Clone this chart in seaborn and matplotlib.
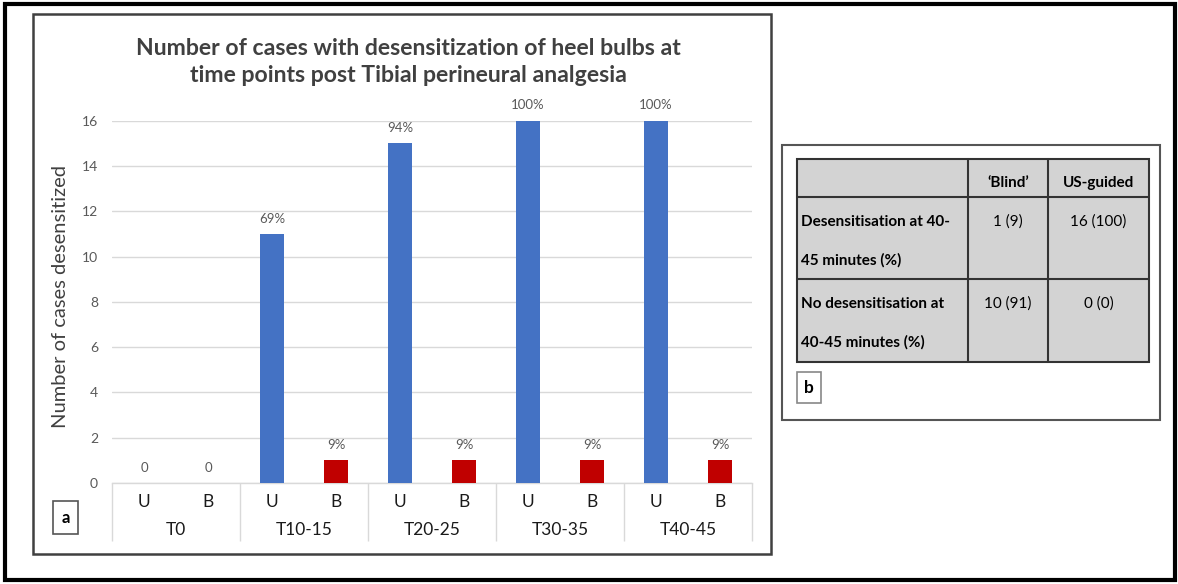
import numpy as np
import pandas as pd
import matplotlib
matplotlib.use("Agg")
import matplotlib.pyplot as plt
import seaborn as sns
from matplotlib.patches import Rectangle
from matplotlib.transforms import blended_transform_factory

# ---- data -------------------------------------------------------------
time_points = ["T0", "T10-15", "T20-25", "T30-35", "T40-45"]
arms = ["U", "B"]                      # U = US-guided, B = 'Blind'
us_guided = [0, 11, 15, 16, 16]        # cases desensitized, US-guided
blind = [0, 1, 1, 1, 1]                # cases desensitized, blind
group_size = {"U": 16, "B": 11}
y_ticks = [0, 2, 4, 6, 8, 10, 12, 14, 16]

title = ("Number of cases with desensitization of heel bulbs at\n"
         "time points post Tibial perineural analgesia")
y_label = "Number of cases desensitized"

table_header = ["\u2018Blind\u2019", "US-guided"]
table_row_labels = [("Desensitisation at 40-", "45 minutes (%)"),
                    ("No desensitisation at", "40-45 minutes (%)")]
table_values = [["1 (9)", "16 (100)"],
                ["10 (91)", "0 (0)"]]

arm_colors = {"U": "#4472C4", "B": "#C00000"}

# ---- long-form frame ---------------------------------------------------
records = []
for i, tp in enumerate(time_points):
    for arm, vals in (("U", us_guided), ("B", blind)):
        records.append({"slot": f"{tp}|{arm}", "time": tp, "arm": arm,
                        "count": vals[i]})
df = pd.DataFrame(records)

# ---- figure ------------------------------------------------------------
sns.set_style("white")
plt.rcParams["font.family"] = ["Lato", "DejaVu Sans"]

W, H = 1178, 584
fig = plt.figure(figsize=(W / 100, H / 100), dpi=100)
fig.patch.set_facecolor("white")

# pixel-space canvas for frames, title and table
canvas = fig.add_axes([0, 0, 1, 1], zorder=0)
canvas.set_xlim(0, W)
canvas.set_ylim(H, 0)
canvas.axis("off")

# chart axes
AX_L, AX_R, AX_T, AX_B = 112, 752, 120.7, 483
ax = fig.add_axes([AX_L / W, 1 - AX_B / H, (AX_R - AX_L) / W,
                   (AX_B - AX_T) / H], zorder=2)
ax.set_facecolor("none")

sns.barplot(data=df, x="slot", y="count", hue="arm", order=df["slot"],
            palette=arm_colors, saturation=1, dodge=False, width=0.39,
            legend=False, ax=ax, linewidth=0, zorder=3)

ax.set_xlim(-0.5, len(df) - 0.5)
ax.set_ylim(0, 16)
ax.set_yticks(y_ticks)
ax.set_yticklabels([str(t) for t in y_ticks], color="#595959", fontsize=10)
ax.grid(axis="y", color="#d9d9d9", linewidth=1, zorder=0)
ax.set_axisbelow(True)
ax.tick_params(axis="y", length=0, pad=10)
ax.set_xticks(range(len(df)))
ax.set_xticklabels(df["arm"], fontsize=12.5, color="#1a1a1a")
ax.tick_params(axis="x", length=0, pad=8)
ax.set_xlabel("")
ax.set_ylabel("")
for s in ("top", "right", "left"):
    ax.spines[s].set_visible(False)
ax.spines["bottom"].set_color("#d9d9d9")
ax.spines["bottom"].set_linewidth(1)

# value labels above bars
for i, row in df.iterrows():
    c = row["count"]
    if c == 0:
        lab = str(c)
    else:
        lab = f"{round(100 * c / group_size[row['arm']])}%"
    ax.annotate(lab, (i, c), xytext=(0, 11), textcoords="offset points",
                ha="center", va="center", fontsize=9.5, color="#595959")

# multi-level category axis: group names and separators
ax_h = AX_B - AX_T
trans = blended_transform_factory(ax.transData, ax.transAxes)
for g, tp in enumerate(time_points):
    ax.text(2 * g + 0.5, -(530 - AX_B) / ax_h, tp, transform=trans,
            ha="center", va="center", fontsize=12.5, color="#1a1a1a")
bounds = [2 * g - 0.5 for g in range(len(time_points) + 1)]
ax.vlines(bounds, -(541 - AX_B) / ax_h, 0, transform=trans,
          colors="#d9d9d9", linewidth=1, clip_on=False)

# ---- frames, title, axis label ----------------------------------------
canvas.add_patch(Rectangle((5, 4), 1170, 576, fill=False,
                           edgecolor="black", linewidth=3))
canvas.add_patch(Rectangle((33, 14), 738, 540, fill=False,
                           edgecolor="#404040", linewidth=1.8))
canvas.text(408, 62, title, ha="center", va="center", fontsize=16.6,
            fontweight="bold", color="#404040", linespacing=1.38)
canvas.text(61, 297, y_label, rotation=90, ha="center", va="center",
            fontsize=14.5, color="#404040")
canvas.add_patch(Rectangle((53, 501), 25, 33, fill=False,
                           edgecolor="#555555", linewidth=1.2))
canvas.text(65.5, 518, "a", ha="center", va="center", fontsize=12,
            fontweight="bold", color="black")

# ---- panel b: summary table -------------------------------------------
canvas.add_patch(Rectangle((782, 145), 378, 275, fill=False,
                           edgecolor="#555555", linewidth=1.5))
TX0, TX1, TX2, TX3 = 797, 968, 1048, 1149
TY0, TY1, TY2, TY3 = 159, 197, 279, 362
canvas.add_patch(Rectangle((TX0, TY0), TX3 - TX0, TY3 - TY0,
                           facecolor="#d3d3d3", edgecolor="#333333",
                           linewidth=1.5))
for y in (TY1, TY2):
    canvas.plot([TX0, TX3], [y, y], color="#333333", linewidth=1.5)
for x in (TX1, TX2):
    canvas.plot([x, x], [TY0, TY3], color="#333333", linewidth=1.5)

col_centres = [(TX1 + TX2) / 2, (TX2 + TX3) / 2]
for cx, hdr in zip(col_centres, table_header):
    canvas.text(cx, 183, hdr, ha="center", va="center", fontsize=11,
                fontweight="bold", color="black")
row_tops = [TY1, TY2]
for r, (line1, line2) in enumerate(table_row_labels):
    top = row_tops[r]
    canvas.text(801, top + 25, line1, ha="left", va="center", fontsize=11,
                fontweight="bold", color="black")
    canvas.text(801, top + 63, line2, ha="left", va="center", fontsize=11,
                fontweight="bold", color="black")
    for cx, val in zip(col_centres, table_values[r]):
        canvas.text(cx, top + 25, val, ha="center", va="center",
                    fontsize=11, color="black")

canvas.add_patch(Rectangle((797, 372), 24, 31, fill=False,
                           edgecolor="#888888", linewidth=1.2))
canvas.text(809, 388, "b", ha="center", va="center", fontsize=12.5,
            fontweight="bold", color="black")

fig.savefig("out.png", dpi=100, facecolor="white")
